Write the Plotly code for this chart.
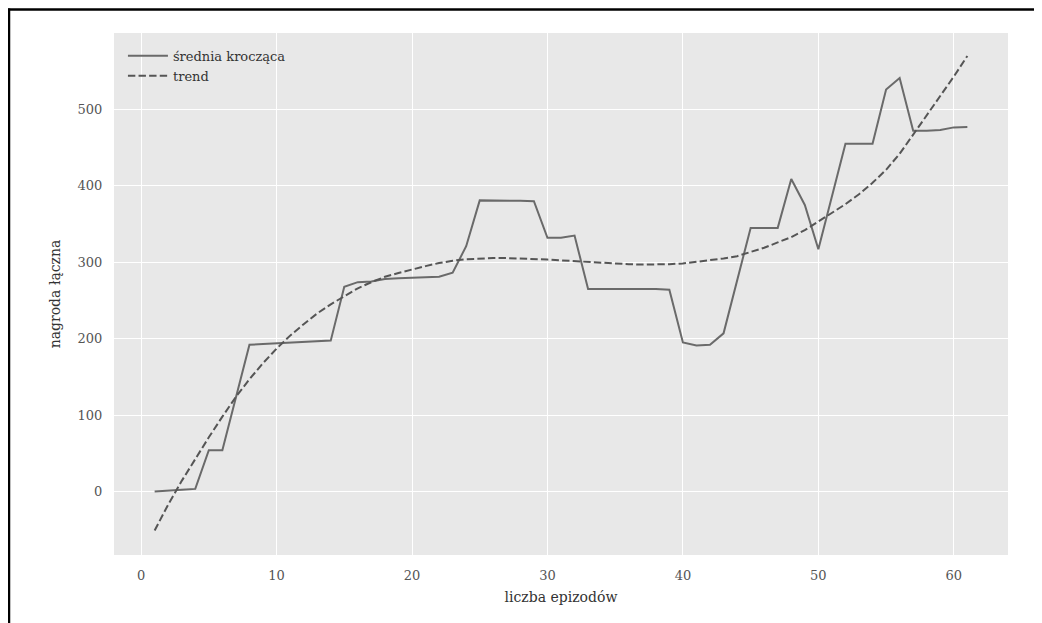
import plotly.graph_objects as go

episodes = list(range(1, 62))

moving_avg = [
    0, 1.5, 2.5, 3.5, 54, 54, 124, 192, 193, 194,
    194.5, 195, 196, 197.5, 268, 274, 275, 278, 279, 280,
    280.5, 281, 286.5, 321, 381, 381, 381, 380.5, 380, 332,
    332, 335, 265, 265, 265, 265, 265, 265, 264, 195,
    191, 192, 207, 276, 345, 345, 345, 409, 375, 317,
    386, 455, 455, 455, 526, 541, 472, 472, 473, 476.5,
    477,
]

trend = [
    -51, -17, 14, 43, 71, 98, 124, 147, 168, 187,
    204, 219, 233, 245, 256, 266, 274, 281, 286, 291,
    295, 299, 302, 304, 305, 305.5, 305.5, 305, 304.5, 303.5,
    302.5, 301.5, 300, 299, 298, 297.5, 297, 297, 297.5, 298.5,
    300.5, 302.5, 305, 308, 313, 319, 326, 333, 342, 353,
    364, 376, 389, 404, 421, 442, 467, 492, 517, 543,
    570,
]

legend_names = ["średnia krocząca", "trend"]
x_ticks = [0, 10, 20, 30, 40, 50, 60]
y_ticks = [0, 100, 200, 300, 400, 500]
x_title = "liczba epizodów"
y_title = "nagroda łączna"

FONT = "DejaVu Serif"

fig = go.Figure()
fig.add_trace(go.Scatter(
    x=episodes, y=moving_avg, mode="lines", name=legend_names[0],
    line=dict(color="#6a6a6a", width=2),
))
fig.add_trace(go.Scatter(
    x=episodes, y=trend, mode="lines", name=legend_names[1],
    line=dict(color="#555555", width=2, dash="7.4px,3.2px"),
))

axis_common = dict(
    showgrid=True, gridcolor="white", gridwidth=1,
    zeroline=False, showline=False,
    ticks="outside", ticklen=8, tickcolor="rgba(0,0,0,0)",
    tickfont=dict(family=FONT, size=13, color="#555555"),
    title_font=dict(family=FONT, size=14, color="#333333"),
)

fig.update_xaxes(range=[-2, 64], tickvals=x_ticks, title_text=x_title,
                 title_standoff=10, **axis_common)
fig.update_yaxes(range=[-83, 600], tickvals=y_ticks, title_text=y_title,
                 title_standoff=13, **axis_common)

# page body adds an 8px offset, so the figure is sized to fit the window
W, H = 1034, 615
L, R, T, B = 106, 34, 25, 68
pw, ph = W - L - R, H - T - B

def px_x(p):
    return (p - L) / pw

def px_y(p):
    return (H - B - p) / ph

fig.update_layout(
    width=W, height=H,
    margin=dict(l=L, r=R, t=T, b=B, pad=0),
    paper_bgcolor="white",
    plot_bgcolor="#E8E8E8",
    font=dict(family=FONT, size=13, color="#333333"),
    showlegend=True,
    legend=dict(
        x=0.01, y=0.985, xanchor="left", yanchor="top",
        bgcolor="rgba(0,0,0,0)", borderwidth=0,
        font=dict(family=FONT, size=13, color="#333333"),
        itemwidth=40, tracegroupgap=0,
    ),
    shapes=[
        dict(type="line", xref="paper", yref="paper",
             x0=px_x(0), x1=px_x(W), y0=px_y(1.5), y1=px_y(1.5),
             line=dict(color="black", width=2.5)),
        dict(type="line", xref="paper", yref="paper",
             x0=px_x(1), x1=px_x(1), y0=px_y(0.5), y1=px_y(H),
             line=dict(color="black", width=2.5)),
    ],
)

fig.write_html("out.html")
